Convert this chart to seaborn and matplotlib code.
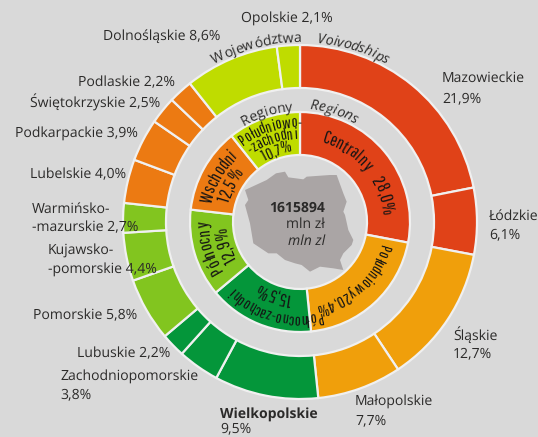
import math
import logging
import matplotlib
matplotlib.use("Agg")
import matplotlib.pyplot as plt
from matplotlib.font_manager import FontProperties, findfont, get_font
from matplotlib.ft2font import LoadFlags
import seaborn as sns

logging.getLogger("matplotlib.font_manager").setLevel(logging.ERROR)

W, H = 538, 437
BG = "#d9d9d9"
sns.set_theme(style="white", rc={"figure.facecolor": BG, "axes.facecolor": BG})
plt.rcParams["text.hinting"] = "no_hinting"
plt.rcParams["text.hinting_factor"] = 1

voiv_names = ["Mazowieckie", "Łódzkie", "Śląskie", "Małopolskie", "Wielkopolskie", "Zachodniopomorskie",
              "Lubuskie", "Pomorskie", "Kujawsko-pomorskie", "Warmińsko-mazurskie", "Lubelskie", "Podkarpackie",
              "Świętokrzyskie", "Podlaskie", "Dolnośląskie", "Opolskie"]
voiv_values = [21.9, 6.1, 12.7, 7.7, 9.5, 3.8, 2.2, 5.8, 4.4, 2.7, 4.0, 3.9, 2.5, 2.2, 8.6, 2.1]
region_names = ["Centralny", "Południowy", "Północno-zachodni", "Północny", "Wschodni", "Południowo-zachodni"]
region_values = [28.0, 20.4, 15.5, 12.9, 12.5, 10.7]
region_colors = ["#e04218", "#f09f0b", "#04963a", "#82c51f", "#ec7a12", "#bfdc00"]
voiv_region = [0, 0, 1, 1, 2, 2, 2, 3, 3, 3, 4, 4, 4, 4, 5, 5]
total_text = "1615894"

CX, CY = 300, 222
fig = plt.figure(figsize=(W / 100, H / 100), dpi=100, facecolor=BG)
ax = fig.add_axes([0, 0, 1, 1])

edge = {"edgecolor": "#f0f0f0", "linewidth": 1.6}
ax.pie(voiv_values, colors=[region_colors[i] for i in voiv_region], startangle=90, counterclock=False,
       radius=177, center=(CX, H - CY), wedgeprops={"width": 43, **edge}, frame=False, normalize=True)
ax.pie(region_values, colors=region_colors, startangle=90, counterclock=False,
       radius=110, center=(CX, H - CY), wedgeprops={"width": 43, **edge}, frame=False, normalize=True)
ax.set_xlim(0, W)
ax.set_ylim(0, H)
ax.set_aspect("equal")
ax.axis("off")

# outline of Poland behind the total
poland = [(225, 300), (290, 270), (318, 250), (345, 245), (355, 262), (400, 268), (410, 260), (480, 255), (500, 255),
          (520, 310), (530, 335), (520, 365), (525, 375), (535, 420), (550, 450), (545, 465), (520, 490), (510, 510),
          (520, 540), (490, 535), (450, 530), (420, 545), (395, 525), (375, 520), (345, 510), (320, 490), (295, 490),
          (250, 460), (240, 400), (225, 345), (235, 330)]
ax.fill([170 + x / 3 for x, y in poland], [H - (90 + y / 3) for x, y in poland], color="#aaa5a5", lw=0)

DARK = "#2b2a29"
SANS = "Open Sans"
FS = 9.8
NARROW = ["Pathway Gothic One", "League Gothic", "Archivo Narrow", "Liberation Sans"]


def label(x, y, s, ha="left", **kw):
    ax.text(x, H - y - 1.5, s, ha=ha, va="center", color=DARK, family=SANS, fontsize=FS, **kw)


def arc_text(s, r, angle, fp, color=DARK):
    """Write s clockwise along a circle of baseline radius r, centred at angle (deg clockwise from top)."""
    font = get_font(findfont(fp))
    font.set_size(fp.get_size_in_points(), 100)
    advs = [font.load_char(ord(ch), flags=LoadFlags.NO_HINTING).linearHoriAdvance / 65536 for ch in s]
    pos = -sum(advs) / 2
    for ch, w in zip(s, advs):
        a = math.radians(angle) + (pos + w / 2) / r
        pos += w
        if ch == " ":
            continue
        ax.text(CX + r * math.sin(a), H - CY + r * math.cos(a), ch, fontproperties=fp, color=color,
                rotation=-math.degrees(a), rotation_mode="anchor", ha="center", va="baseline")


def pct(i):
    return f"{voiv_values[i]:.1f}%".replace(".", ",")


label(442, 77, voiv_names[0]); label(442, 97, pct(0))
label(489, 215, voiv_names[1]); label(489, 233, pct(1))
label(453, 333, voiv_names[2]); label(453, 352, pct(2))
label(355, 400, voiv_names[3]); label(355, 419, pct(3))
label(220, 413, voiv_names[4], weight="bold"); label(220, 427.5, pct(4))
label(60, 375, voiv_names[5]); label(60, 393, pct(5))
label(77, 352, f"{voiv_names[6]} {pct(6)}")
label(33, 314, f"{voiv_names[7]} {pct(7)}")
label(48, 250, "Kujawsko-"); label(48, 268, f"-pomorskie {pct(8)}")
label(32, 208, "Warmińsko-"); label(32, 226, f"-mazurskie {pct(9)}")
label(30, 173, f"{voiv_names[10]} {pct(10)}")
label(15, 132, f"{voiv_names[11]} {pct(11)}")
label(30, 101, f"{voiv_names[12]} {pct(12)}")
label(78, 81, f"{voiv_names[13]} {pct(13)}")
label(103, 35, f"{voiv_names[14]} {pct(14)}")
label(241, 17, f"{voiv_names[15]} {pct(15)}")

# ring titles
fp_t = FontProperties(family=SANS, size=FS)
fp_i = FontProperties(family=SANS, size=FS, style="italic")
arc_text("Województwa", 180, -14, fp_t)
arc_text("Voivodships", 180, 17, fp_i)
arc_text("Regiony", 111, -17, fp_t)
arc_text("Regions", 113, 17, fp_i)

# inner ring labels
INK = "#141414"
fp_n = FontProperties(family=NARROW, size=13)
fp_l = FontProperties(family=NARROW, size=11.5)
arc_text("Centralny    28,0%", 82, 50, fp_n, color=INK)
arc_text("Południowy 20,4%", 83, 137, fp_l, color=INK)
arc_text("Północno-zachodni", 92, 196, fp_l, color=INK)
arc_text("15,5%", 72, 200, fp_n, color=INK)
arc_text("Północny", 91, 254, fp_n, color=INK)
arc_text("12,9%", 73, 253, fp_n, color=INK)
arc_text("Wschodni", 90, 299, fp_n, color=INK)
arc_text("12,5%", 74, 298, fp_n, color=INK)
fp_s = FontProperties(family=NARROW, size=11.5)
arc_text("Południowo-", 95, 342, fp_s, color=INK)
arc_text("-zachodni", 83, 341, fp_s, color=INK)
arc_text("10,7%", 70, 342, fp_s, color=INK)

# centre text
ax.text(325, H - 208, total_text, ha="right", va="center", color=DARK, family=SANS, fontsize=FS, weight="bold")
ax.text(325, H - 224, "mln zł", ha="right", va="center", color=DARK, family=SANS, fontsize=FS)
ax.text(325, H - 241, "mln zl", ha="right", va="center", color=DARK, family=SANS, fontsize=FS, style="italic")

fig.savefig("out.png", dpi=100, facecolor=BG)
